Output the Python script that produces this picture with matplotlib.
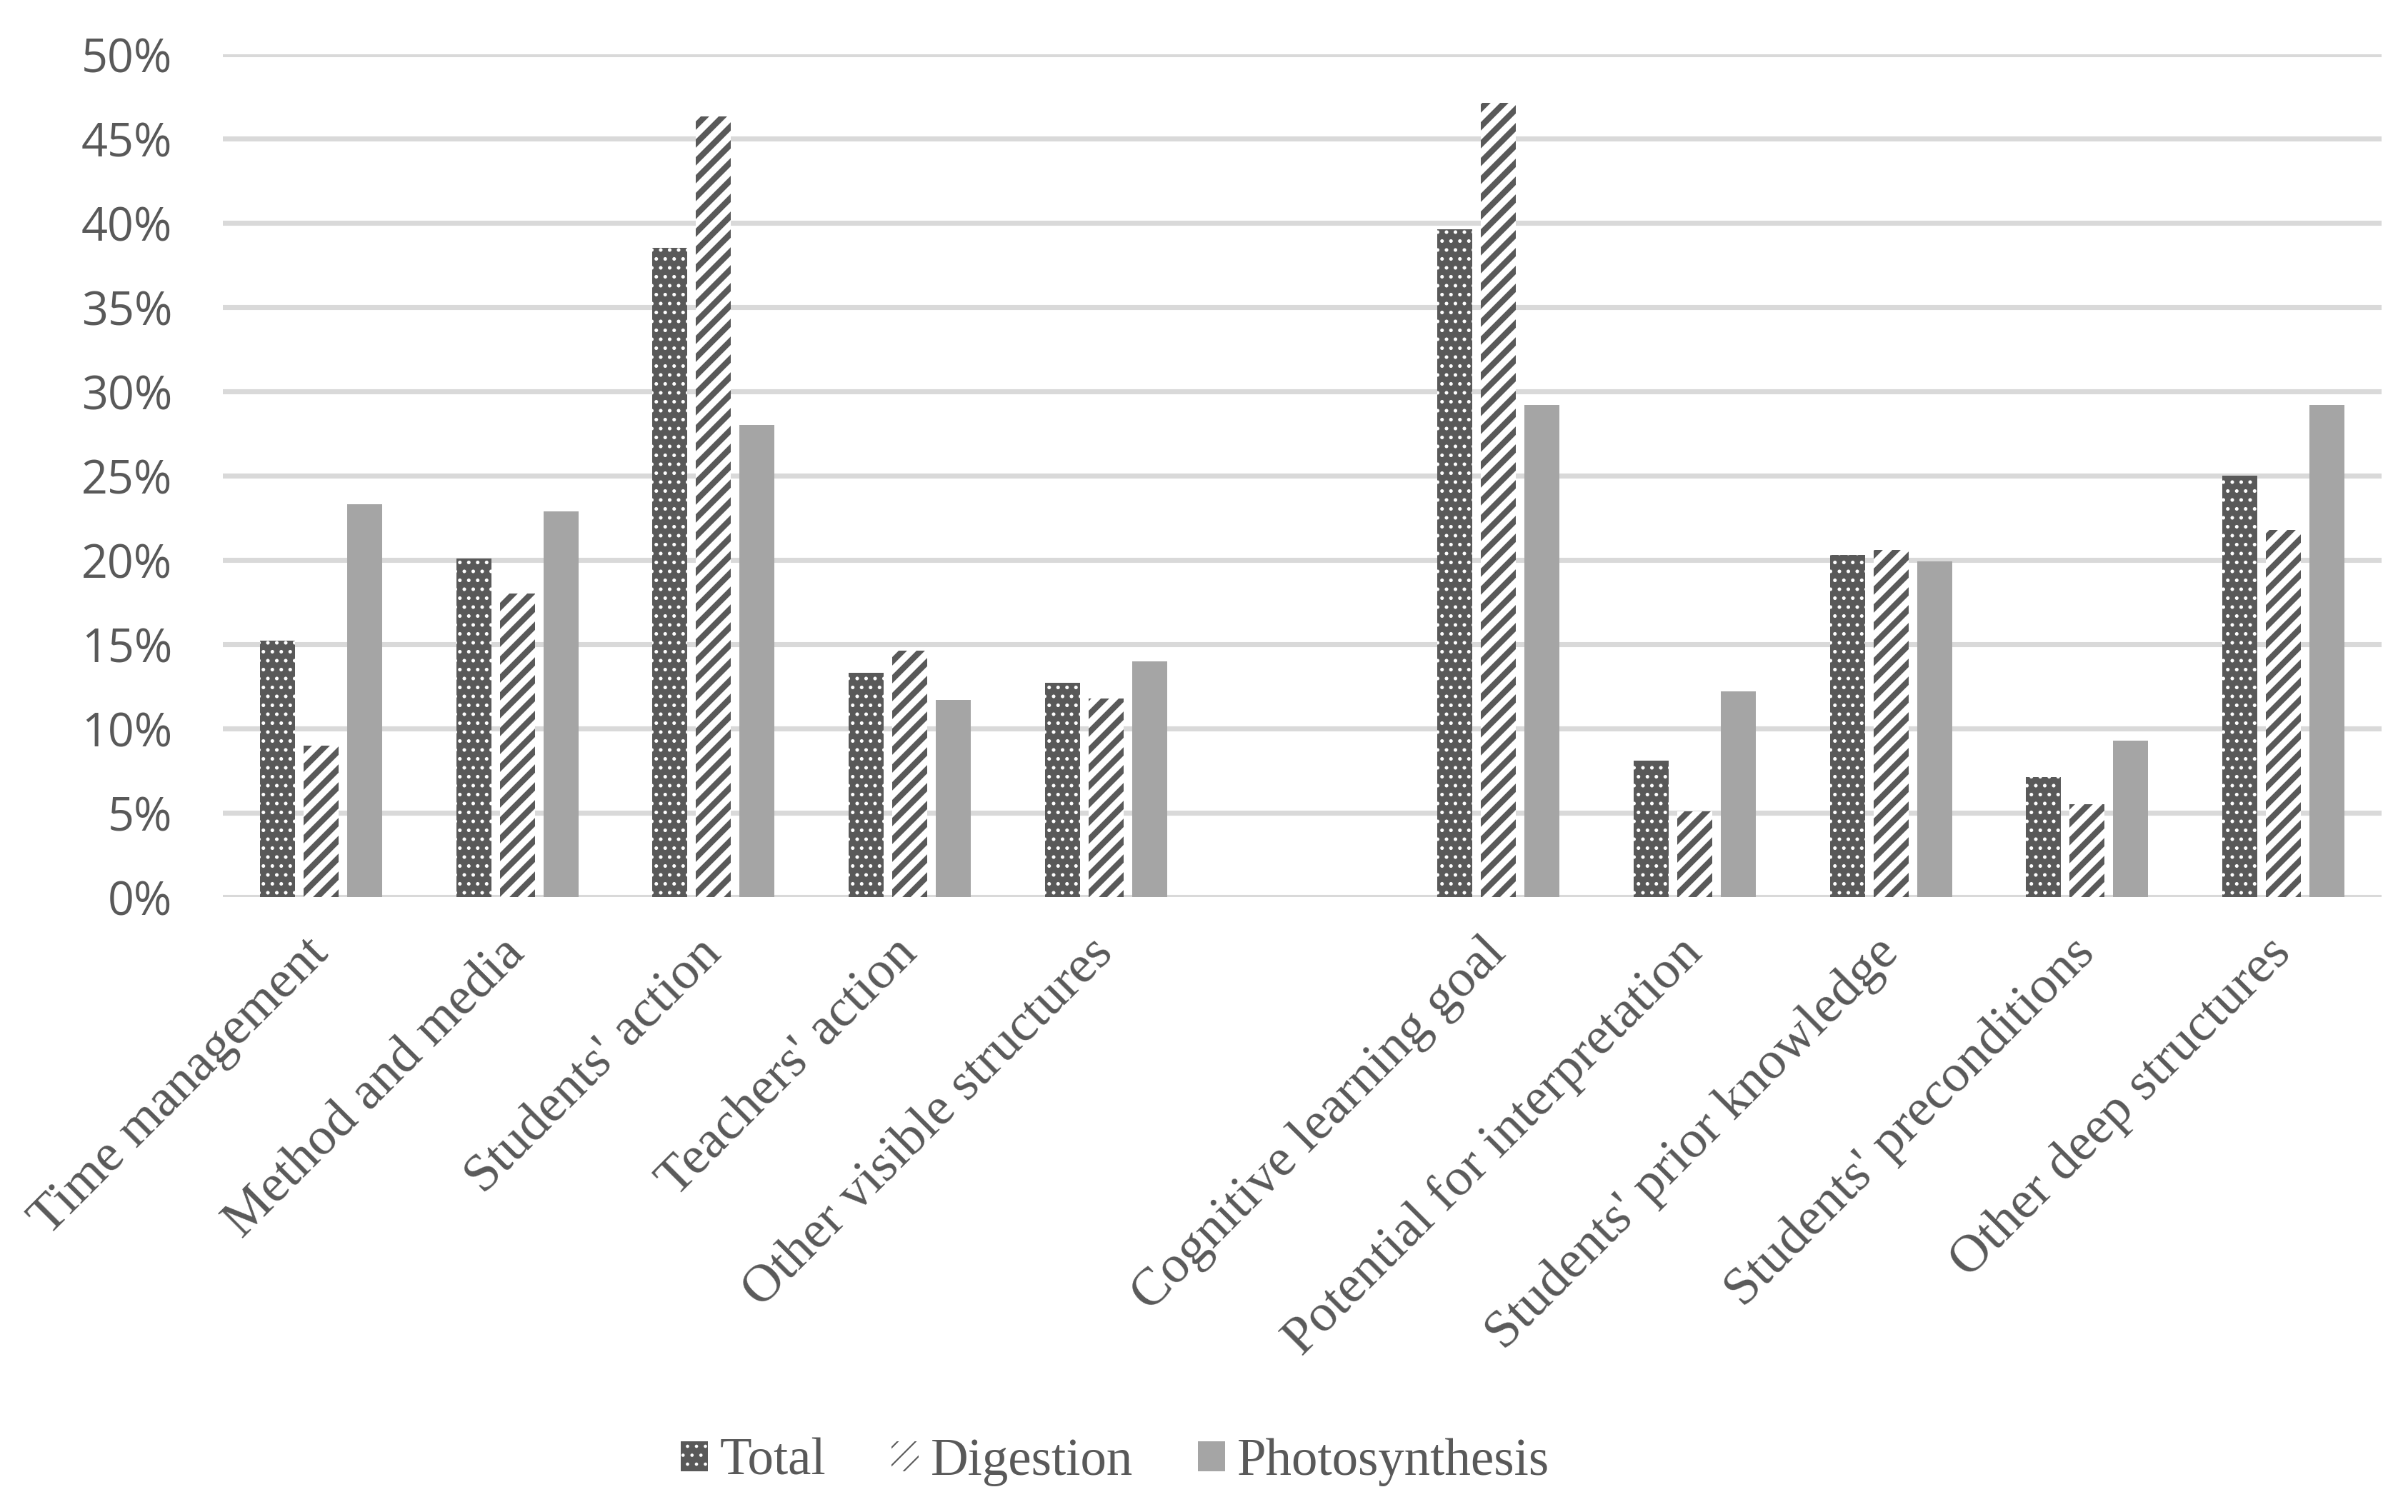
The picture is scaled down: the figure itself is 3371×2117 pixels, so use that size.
import matplotlib
matplotlib.use('Agg')
import matplotlib.pyplot as plt
import numpy as np
from matplotlib.ticker import PercentFormatter
from matplotlib.patches import Patch

# ---------------- data ----------------
categories = ["Time management", "Method and media", "Students' action", "Teachers' action",
              "Other visible structures", "", "Cognitive learning goal",
              "Potential for interpretation", "Students' prior knowledge",
              "Students' preconditions", "Other deep structures"]
series_names = ["Total", "Digestion", "Photosynthesis"]
total = [15.2, 20.1, 38.5, 13.3, 12.7, np.nan, 39.6, 8.1, 20.3, 7.1, 25.0]
digestion = [9.0, 18.0, 46.3, 14.6, 11.8, np.nan, 47.1, 5.1, 20.6, 5.5, 21.8]
photosynthesis = [23.3, 22.9, 28.0, 11.7, 14.0, np.nan, 29.2, 12.2, 19.9, 9.3, 29.2]
y_ticks = [0, 5, 10, 15, 20, 25, 30, 35, 40, 45, 50]

# ---------------- style ----------------
TXT = '#595959'
DARK = '#595959'
LIGHT = '#A5A5A5'
GRID = '#D9D9D9'
DPI = 150
DOT_LW = 1.2
STRIPE_LW = 4.0

fig = plt.figure(figsize=(3371 / DPI, 2117 / DPI), dpi=DPI)
ax = fig.add_axes([312 / 3371, 1 - 1256 / 2117, (3334 - 312) / 3371, (1256 - 76) / 2117])

x = np.arange(len(categories))
width = 0.178
step = 0.222

def set_hlw(patches, lw):
    for p in patches:
        try:
            p.set_hatch_linewidth(lw)
        except AttributeError:
            pass

with plt.rc_context({'hatch.linewidth': DOT_LW}):
    b1 = ax.bar(x - step, total, width, facecolor=DARK, edgecolor='white',
                linewidth=0, hatch='..', zorder=3)
set_hlw(b1, DOT_LW)
with plt.rc_context({'hatch.linewidth': STRIPE_LW}):
    b2 = ax.bar(x, digestion, width, facecolor='white', edgecolor=DARK,
                linewidth=0, hatch='//', zorder=3)
set_hlw(b2, STRIPE_LW)
b3 = ax.bar(x + step, photosynthesis, width, facecolor=LIGHT, edgecolor=LIGHT,
            linewidth=0, zorder=3)

ax.set_xlim(-0.5, len(categories) - 0.5)
ax.set_ylim(0, 50)
ax.set_yticks(y_ticks)
ax.yaxis.set_major_formatter(PercentFormatter(100, decimals=0))
ax.grid(axis='y', color=GRID, linewidth=3.4, zorder=0)
ax.set_axisbelow(True)
for s in ax.spines.values():
    s.set_visible(False)

ax.tick_params(axis='y', length=0, pad=34, labelcolor=TXT, labelsize=31)
for lab in ax.get_yticklabels():
    lab.set_fontfamily('Open Sans')

ax.set_xticks(x)
ax.set_xticklabels(categories, rotation=45, ha='right', va='center',
                   rotation_mode='anchor', fontfamily='Liberation Serif',
                   fontsize=36, color=TXT)
ax.tick_params(axis='x', length=0, pad=33)

handles = [
    Patch(facecolor=DARK, edgecolor='white', linewidth=0, hatch='..', label=series_names[0]),
    Patch(facecolor='white', edgecolor=DARK, linewidth=0, hatch='//', label=series_names[1]),
    Patch(facecolor=LIGHT, edgecolor=LIGHT, linewidth=0, label=series_names[2]),
]
with plt.rc_context({'hatch.linewidth': DOT_LW}):
    pass
set_hlw(handles[:1], DOT_LW)
set_hlw(handles[1:2], STRIPE_LW)
leg = fig.legend(handles=handles, loc='center', bbox_to_anchor=(1561 / 3371, 1 - 2047 / 2117),
                 ncol=3, frameon=False, handlelength=0.52, handleheight=0.52,
                 handletextpad=0.23, columnspacing=1.25,
                 prop={'family': 'Liberation Serif', 'size': 35})
for t in leg.get_texts():
    t.set_color(TXT)

fig.savefig('out.png', dpi=DPI, facecolor='white')
